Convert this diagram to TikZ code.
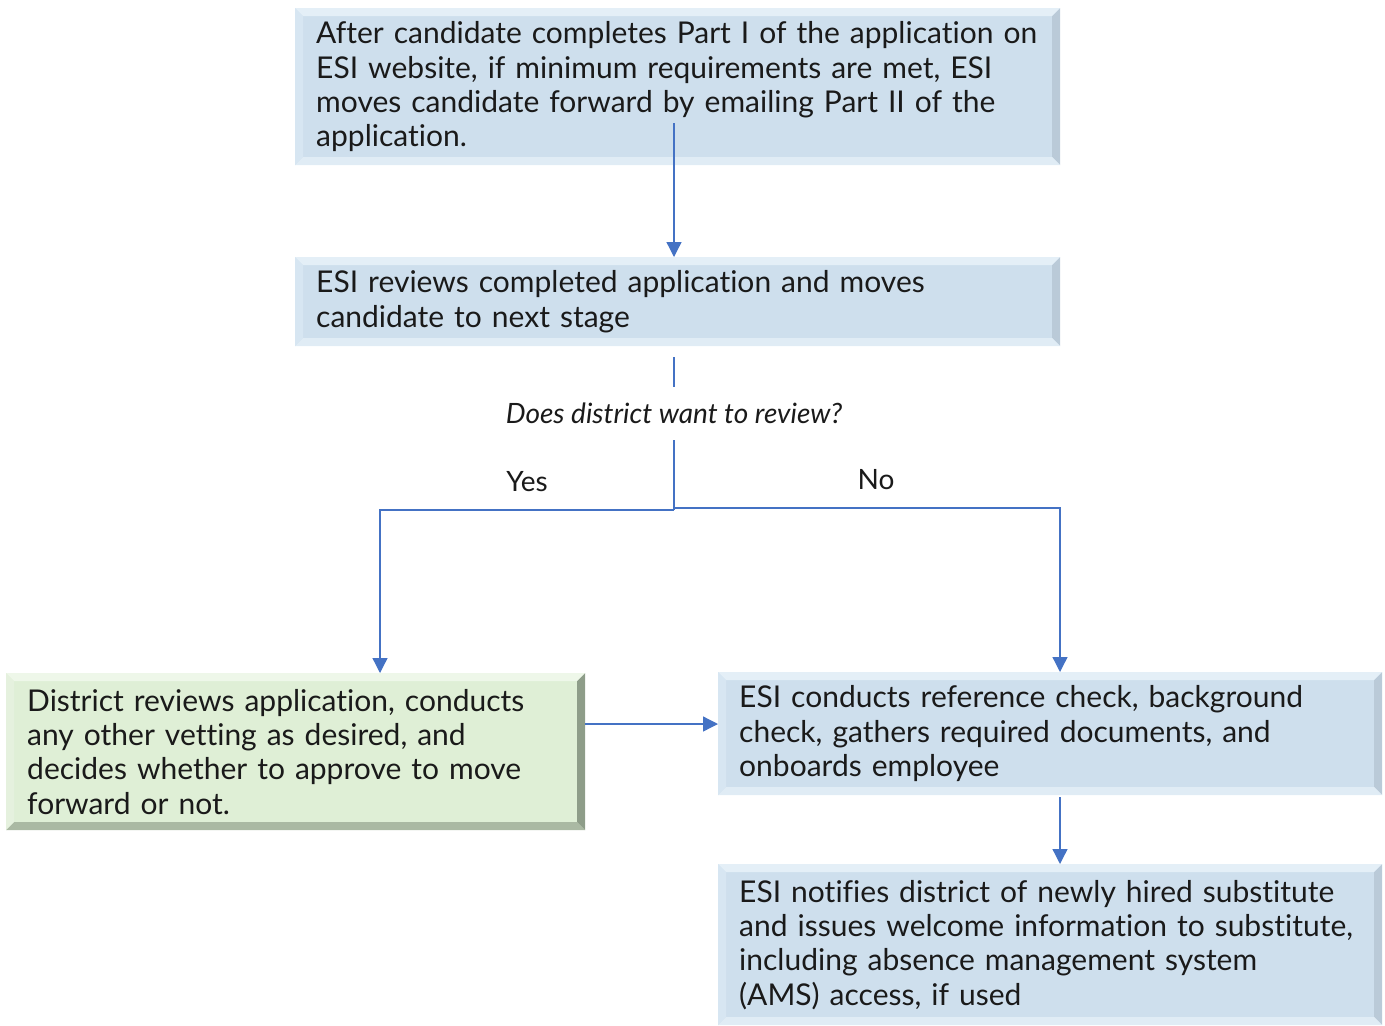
\documentclass[tikz,border=0pt]{standalone}
\usepackage{fontspec}
\setmainfont[Ligatures=NoCommon]{Lato}
\usetikzlibrary{arrows.meta}
\definecolor{bfill}{HTML}{CEDFED}
\definecolor{btop}{HTML}{E4EFF7}
\definecolor{bleft}{HTML}{D7E6F2}
\definecolor{bright}{HTML}{BACAD8}
\definecolor{bbot}{HTML}{E0ECF5}
\definecolor{gfill}{HTML}{DFEFD6}
\definecolor{gtop}{HTML}{EEF7E9}
\definecolor{gleft}{HTML}{E5F1DE}
\definecolor{gright}{HTML}{8E9D89}
\definecolor{gbot}{HTML}{AAB9A3}
\definecolor{arrowblue}{HTML}{4472C4}
\definecolor{txt}{HTML}{1A1A1A}
\tikzset{
  bevel/.style n args={5}{fill=#1, draw=none, path picture={
    \path (path picture bounding box.north west) coordinate (NW)
          (path picture bounding box.north east) coordinate (NE)
          (path picture bounding box.south west) coordinate (SW)
          (path picture bounding box.south east) coordinate (SE);
    \fill[#2] (NW) -- (NE) -- ([shift={(-8,8)}]NE) -- ([shift={(8,8)}]NW) -- cycle;
    \fill[#3] (NW) -- ([shift={(8,8)}]NW) -- ([shift={(8,-8)}]SW) -- (SW) -- cycle;
    \fill[#4] (NE) -- (SE) -- ([shift={(-8,-8)}]SE) -- ([shift={(-8,8)}]NE) -- cycle;
    \fill[#5] (SW) -- (SE) -- ([shift={(-8,-8)}]SE) -- ([shift={(8,-8)}]SW) -- cycle;
  }},
  boxbase/.style={anchor=north west, align=left, inner xsep=21pt, inner ysep=0pt,
    text=txt, font=\fontsize{30}{34.3}\selectfont},
  bluebox/.style={boxbase, bevel={bfill}{btop}{bleft}{bright}{bbot}},
  greenbox/.style={boxbase, bevel={gfill}{gtop}{gleft}{gright}{gbot}},
  arr/.style={draw=arrowblue, line width=1.3pt, -{Triangle[length=15pt,width=15pt]}},
  conn/.style={draw=arrowblue, line width=1.3pt},
  lbl/.style={text=txt, font=\fontsize{28}{32}\selectfont, inner sep=0pt}
}
\begin{document}
\begin{tikzpicture}[x=1pt,y=-1pt]
\useasboundingbox (0,0) rectangle (1385,1026);

\node[bluebox, minimum width=765pt, minimum height=157pt, text width=723pt] (b1) at (295,8)
  {\mbox{After candidate completes Part I of the application on}\\
   \mbox{ESI website, if minimum requirements are met, ESI}\\
   \mbox{moves candidate forward by emailing Part II of the}\\
   application.};

\node[bluebox, minimum width=765pt, minimum height=89pt, text width=723pt] (b2) at (295,257)
  {\mbox{ESI reviews completed application and moves}\\
   candidate to next stage};

\node[greenbox, minimum width=579pt, minimum height=157pt, text width=537pt] (b3) at (6,673)
  {\mbox{District reviews application, conducts}\\
   \mbox{any other vetting as desired, and}\\
   \mbox{decides whether to approve to move}\\
   forward or not.};

\node[bluebox, minimum width=664pt, minimum height=123pt, text width=622pt] (b4) at (718,672)
  {\mbox{ESI conducts reference check, background}\\
   \mbox{check, gathers required documents, and}\\
   onboards employee};

\node[bluebox, minimum width=664pt, minimum height=161pt, text width=622pt] (b5) at (718,864)
  {\mbox{ESI notifies district of newly hired substitute}\\
   \mbox{and issues welcome information to substitute,}\\
   \mbox{including absence management system}\\
   \mbox{(AMS) access, if used}};

\node[lbl, font=\fontsize{28}{32}\selectfont\itshape, minimum height=53pt] (q) at (674,413.5)
  {Does district want to review?};
\node[lbl] (yes) at (527,482) {Yes};
\node[lbl] (no) at (876,480) {No};

\coordinate (s1) at (674,123);
\coordinate (jl) at (674,510);
\coordinate (jr) at (674,508);

\draw[arr] (s1) -- (s1 |- b2.north);
\draw[conn] ([yshift=-11pt]b2.south -| q) -- (q.north);
\draw[conn] (q.south) -- (jl);
\draw[arr] (jl) -- (380,510) -- (380,510 |- b3.north);
\draw[arr] (jr) -- (1060,508) -- (1060,508 |- b4.north);
\draw[arr] (b3.east |- 0,724) -- (b4.west |- 0,724);
\draw[arr] ([yshift=-2pt]b4.south -| 1060,0) -- (b5.north -| 1060,0);
\end{tikzpicture}
\end{document}
